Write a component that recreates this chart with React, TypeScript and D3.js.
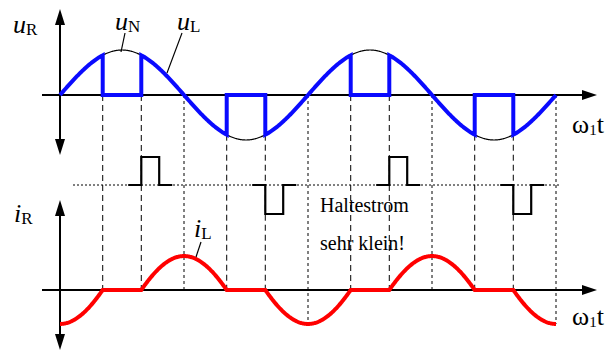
import React from "react";
import * as d3 from "d3";

// Phase angle ω1t in degrees over two mains periods
const PHASE_RANGE = [0, 720];
// Thyristor firing angles (gate pulses) and current-zero (extinction) angles
const FIRING_DEG = [-62, 118, 298, 478, 658];
const EXTINCTION_DEG = [62, 242, 422, 602, 782];
// Zero crossings of the mains voltage u_N
const ZERO_CROSSINGS_DEG = [180, 360, 540, 720];
// Gate pulse polarity per firing (positive / negative half wave)
const PULSE_FIRING_DEG = [118, 298, 478, 658];
const PULSE_POLARITY = [1, -1, 1, -1];
const PULSE_WIDTH_DEG = 26;
const PULSE_LEAD_DEG = 19;
// Text labels
const TEXT_NOTE = ["Haltestrom", "sehr klein!"];

const W = 616;
const H = 352;
const FONT = "'Liberation Serif', 'Times New Roman', serif";

const x = d3.scaleLinear().domain(PHASE_RANGE).range([60, 556]);
const yU = d3.scaleLinear().domain([-1, 1]).range([140, 50]);
const yI = d3.scaleLinear().domain([-1, 1]).range([354, 226]);
const Y_PULSE_BASE = 185;
const Y_PULSE_UP = 157;
const Y_PULSE_DOWN = 214;

const rad = (d: number) => (d * Math.PI) / 180;
const uN = (d: number) => Math.sin(rad(d));

// conduction intervals [firing, extinction], clipped to the shown range
const intervals = FIRING_DEG.map((f, k) => [f, EXTINCTION_DEG[k]] as [number, number]);

function conductingInterval(d: number) {
  return intervals.find(([a, b]) => d >= a && d <= b);
}

function buildUL(): [number, number][] {
  const pts: [number, number][] = [];
  intervals.forEach(([a, b]) => {
    const s = Math.max(a, PHASE_RANGE[0]);
    const e = Math.min(b, PHASE_RANGE[1]);
    if (s >= e) return;
    if (pts.length) pts.push([s, 0]);
    for (const d of d3.range(s, e, 1)) pts.push([d, uN(d)]);
    pts.push([e, uN(e)]);
    if (e < PHASE_RANGE[1]) pts.push([e, 0]);
  });
  return pts;
}

function iL(d: number) {
  const iv = conductingInterval(d);
  if (!iv) return 0;
  return Math.cos(rad(iv[0])) - Math.cos(rad(d));
}

function buildIL(): [number, number][] {
  const pts: [number, number][] = [];
  const grid = Array.from(new Set([...d3.range(0, 720, 1), 720, ...EXTINCTION_DEG, ...FIRING_DEG]))
    .filter((d) => d >= 0 && d <= 720)
    .sort((a, b) => a - b);
  grid.forEach((d) => pts.push([d, iL(d)]));
  return pts;
}

const lineU = d3.line<[number, number]>().x((p) => x(p[0])).y((p) => yU(p[1]));
const lineI = d3.line<[number, number]>().x((p) => x(p[0])).y((p) => yI(p[1]));

function ArrowUp({ cx, tip }: { cx: number; tip: number }) {
  return <polygon points={`${cx},${tip} ${cx - 5},${tip + 16} ${cx + 5},${tip + 16}`} fill="#000" />;
}
function ArrowDown({ cx, tip }: { cx: number; tip: number }) {
  return <polygon points={`${cx},${tip} ${cx - 5},${tip - 16} ${cx + 5},${tip - 16}`} fill="#000" />;
}
function ArrowRight({ cy, tip }: { cy: number; tip: number }) {
  return <polygon points={`${tip},${cy} ${tip - 15},${cy - 5} ${tip - 15},${cy + 5}`} fill="#000" />;
}

function Symbol({ x0, y0, base, sub, italicSize = 26, subSize = 17 }: any) {
  return (
    <text x={x0} y={y0} fontFamily={FONT} fill="#000">
      <tspan fontStyle="italic" fontSize={italicSize}>{base}</tspan>
      <tspan fontSize={subSize} dy={2}>{sub}</tspan>
    </text>
  );
}

export default function App() {
  const yAxisU = yU(0);
  const yAxisI = yI(0);
  const x0 = x(0);

  const uNPath = lineU(d3.range(0, 721, 1).map((d) => [d, uN(d)] as [number, number]));
  const uLPath = lineU(buildUL());
  const iLPath = lineI(buildIL());

  const switching = [...EXTINCTION_DEG, ...FIRING_DEG].filter((d) => d > 0 && d <= 720);

  const vLine = (d: number) => {
    const top = Math.max(yAxisU, yU(uN(d)));
    const bottom = Math.max(yAxisI, yI(iL(d)));
    return { top, bottom };
  };

  return (
    <svg
      width={W}
      height={H}
      viewBox={`0 0 ${W} ${H}`}
      style={{ position: "absolute", left: 0, top: 0, background: "#fff" }}
    >
      {/* guide lines at switching instants */}
      {switching.map((d, k) => {
        const { top, bottom } = vLine(d);
        return (
          <line key={"s" + k} x1={x(d)} x2={x(d)} y1={top} y2={bottom} stroke="#000" strokeWidth={1} strokeDasharray="6,4" />
        );
      })}
      {/* guide lines at voltage zero crossings */}
      {ZERO_CROSSINGS_DEG.map((d, k) => {
        const { top, bottom } = vLine(d);
        return (
          <line key={"z" + k} x1={x(d)} x2={x(d)} y1={top} y2={bottom} stroke="#000" strokeWidth={1} strokeDasharray="3,3" />
        );
      })}

      {/* holding current reference level */}
      <line x1={73} x2={560} y1={Y_PULSE_BASE} y2={Y_PULSE_BASE} stroke="#000" strokeWidth={1} strokeDasharray="2,2" />

      {/* gate pulses */}
      {PULSE_FIRING_DEG.map((d, k) => {
        const yp = PULSE_POLARITY[k] > 0 ? Y_PULSE_UP : Y_PULSE_DOWN;
        const a = x(d - PULSE_LEAD_DEG);
        const b = x(d);
        const c = x(d + PULSE_WIDTH_DEG);
        const e = x(d + PULSE_WIDTH_DEG + PULSE_LEAD_DEG);
        const p = `M${a},${Y_PULSE_BASE}H${b}V${yp}H${c}V${Y_PULSE_BASE}H${e}`;
        return <path key={"p" + k} d={p} fill="none" stroke="#000" strokeWidth={2.2} />;
      })}

      {/* voltage axes */}
      <line x1={42} x2={590} y1={yAxisU} y2={yAxisU} stroke="#000" strokeWidth={2} />
      <ArrowRight cy={yAxisU} tip={597} />
      <line x1={x0} x2={x0} y1={14} y2={150} stroke="#000" strokeWidth={2} />
      <ArrowUp cx={x0} tip={9} />
      <ArrowDown cx={x0} tip={155} />

      {/* current axes */}
      <line x1={42} x2={590} y1={yAxisI} y2={yAxisI} stroke="#000" strokeWidth={2} />
      <ArrowRight cy={yAxisI} tip={597} />
      <line x1={x0} x2={x0} y1={205} y2={345} stroke="#000" strokeWidth={2} />
      <ArrowUp cx={x0} tip={200} />
      <ArrowDown cx={x0} tip={350} />

      {/* mains voltage u_N */}
      <path d={uNPath ?? ""} fill="none" stroke="#000" strokeWidth={1.2} />
      {/* load voltage u_L */}
      <path d={uLPath ?? ""} fill="none" stroke="#0a0aff" strokeWidth={4} strokeLinejoin="miter" />
      {/* load current i_L */}
      <path d={iLPath ?? ""} fill="none" stroke="#ff0000" strokeWidth={4} />

      {/* leader lines */}
      <line x1={125} y1={33} x2={121} y2={52} stroke="#000" strokeWidth={1.2} />
      <line x1={182} y1={33} x2={167} y2={73} stroke="#000" strokeWidth={1.2} />
      <line x1={201} y1={242} x2={196} y2={257} stroke="#000" strokeWidth={1.2} />

      {/* labels */}
      <Symbol x0={13} y0={33} base="u" sub="R" />
      <Symbol x0={115} y0={30} base="u" sub="N" />
      <Symbol x0={177} y0={30} base="u" sub="L" />
      <Symbol x0={14} y0={222} base="i" sub="R" />
      <Symbol x0={194} y0={237} base="i" sub="L" />

      <text x={572} y={133} fontFamily={FONT} fill="#000">
        <tspan fontSize={26}>ω</tspan>
        <tspan fontSize={15} dy={2}>1</tspan>
        <tspan fontSize={26} dy={-2}>t</tspan>
      </text>
      <text x={572} y={325} fontFamily={FONT} fill="#000">
        <tspan fontSize={26}>ω</tspan>
        <tspan fontSize={15} dy={2}>1</tspan>
        <tspan fontSize={26} dy={-2}>t</tspan>
      </text>

      <text x={320} y={212} fontFamily={FONT} fontSize={20} fill="#000">{TEXT_NOTE[0]}</text>
      <text x={320} y={250} fontFamily={FONT} fontSize={20} fill="#000">{TEXT_NOTE[1]}</text>
    </svg>
  );
}
